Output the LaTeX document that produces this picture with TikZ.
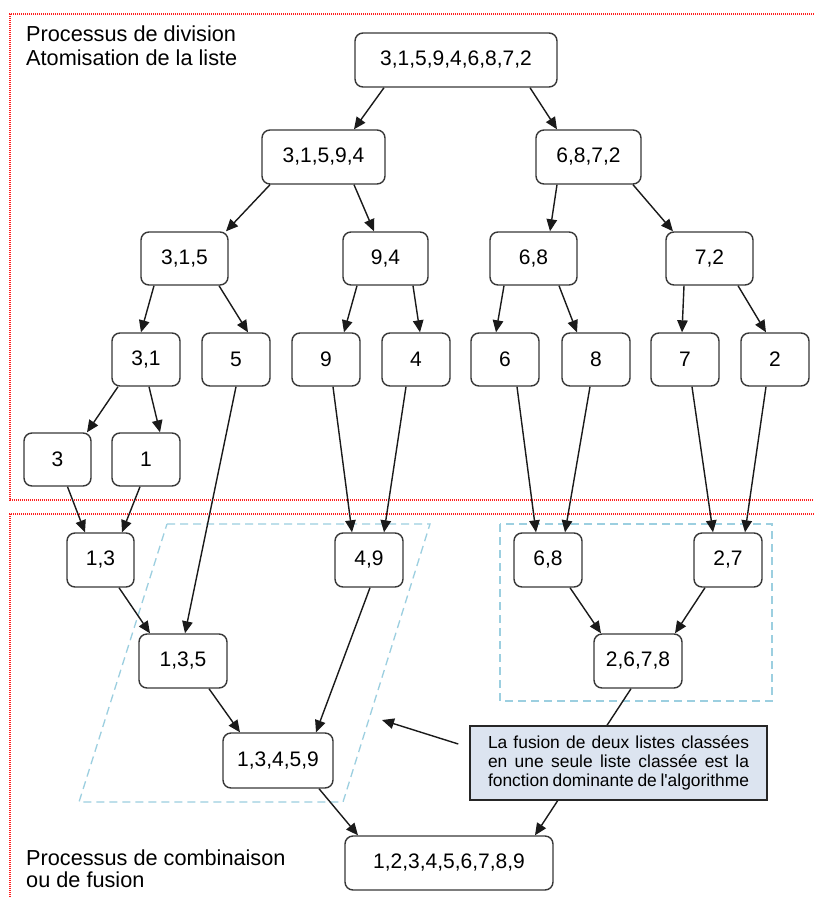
\documentclass[tikz,border=0pt]{standalone}
\usepackage{fontspec}
\setmainfont{Liberation Sans}
\usetikzlibrary{arrows.meta}
\definecolor{boxline}{HTML}{383838}
\definecolor{arrowcol}{HTML}{1A1A1A}
\definecolor{notefill}{HTML}{DCE4F0}
\definecolor{dashblue}{HTML}{9CCFE0}
\definecolor{dotred}{HTML}{FF1E1E}
\begin{document}
\begin{tikzpicture}[x=1pt,y=-1pt,
  box/.style={draw=boxline,line width=1.4pt,rounded corners=8pt,fill=white,inner sep=0pt,minimum height=54pt,font=\fontsize{21}{25}\selectfont},
  conn/.style={draw=arrowcol,line width=1.4pt,-{Triangle[length=12pt,width=10.5pt]}},
  titletext/.style={anchor=base west,inner sep=0pt,font=\fontsize{21.7}{24}\selectfont},
  frame/.style={draw=dotred,line width=1.2pt,dash pattern=on 1.2pt off 0.8pt},
  group/.style={draw=dashblue,line width=1.3pt,dash pattern=on 8pt off 5pt},
  notebox/.style={draw=black!85,line width=1.4pt,fill=notefill,inner sep=0pt,minimum width=297pt,minimum height=74pt,text width=261pt,align=justify,font=\fontsize{17.4}{19}\selectfont}]
\useasboundingbox (0,0) rectangle (814,898);
\fill[white] (0,0) rectangle (814,898);
% frames
\draw[frame] (814,14) -- (10,14) -- (10,500) -- (814,500);
\draw[frame] (814,514) -- (10,514) -- (10,898);
% groups
\draw[group] (167,524) -- (430,524) -- (343,802) -- (79,802) -- cycle;
\draw[group] (500,524) rectangle (772,701);
% titles
\node[titletext] (t1) at (26,41) {Processus de division};
\node[titletext] (t2) at (26,65) {Atomisation de la liste};
\node[titletext] (t3) at (26,865) {Processus de combinaison};
\node[titletext] (t4) at (26,887) {ou de fusion};
% division boxes
\node[box,minimum width=202pt] (root) at (456,60) {3,1,5,9,4,6,8,7,2};
\node[box,minimum width=123pt] (A) at (323.5,157) {3,1,5,9,4};
\node[box,minimum width=105pt] (B) at (588.5,157) {6,8,7,2};
\node[box,minimum width=87pt,minimum height=53pt] (C) at (184.5,258.5) {3,1,5};
\node[box,minimum width=85pt,minimum height=53pt] (D) at (385.5,258.5) {9,4};
\node[box,minimum width=87pt,minimum height=53pt] (E) at (533.5,258.5) {6,8};
\node[box,minimum width=87pt,minimum height=53pt] (F) at (709.5,258.5) {7,2};
\node[box,minimum width=68pt,minimum height=53pt] (G) at (146,359.5) {3,1};
\node[box,minimum width=68pt,minimum height=53pt] (H) at (236,359.5) {5};
\node[box,minimum width=68pt,minimum height=53pt] (I) at (326,359.5) {9};
\node[box,minimum width=68pt,minimum height=53pt] (J) at (416,359.5) {4};
\node[box,minimum width=68pt,minimum height=53pt] (K) at (505,359.5) {6};
\node[box,minimum width=68pt,minimum height=53pt] (L) at (596,359.5) {8};
\node[box,minimum width=68pt,minimum height=53pt] (M) at (685,359.5) {7};
\node[box,minimum width=68pt,minimum height=53pt] (N) at (775,359.5) {2};
\node[box,minimum width=67pt,minimum height=53pt] (O) at (57.5,459.5) {3};
\node[box,minimum width=68pt,minimum height=53pt] (P) at (146,459.5) {1};
% merge boxes
\node[box,minimum width=67pt] (Q) at (100.5,560) {1,3};
\node[box,minimum width=68pt] (R) at (369,560) {4,9};
\node[box,minimum width=68pt] (S) at (548,560) {6,8};
\node[box,minimum width=68pt] (T) at (728,560) {2,7};
\node[box,minimum width=88pt] (U) at (183,661) {1,3,5};
\node[box,minimum width=88pt] (V) at (638,661) {2,6,7,8};
\node[box,minimum width=110pt,minimum height=55pt] (W) at (278,760.5) {1,3,4,5,9};
\node[box,minimum width=208pt] (X) at (449,863) {1,2,3,4,5,6,7,8,9};
% division connectors
\draw[conn] ([xshift=-72pt]root.south) -- ([xshift=30.5pt]A.north);
\draw[conn] ([xshift=74pt]root.south) -- ([xshift=-31.5pt]B.north);
\draw[conn] ([xshift=-53.5pt]A.south) -- ([xshift=41.5pt]C.north);
\draw[conn] ([xshift=30.5pt]A.south) -- ([xshift=-11.5pt]D.north);
\draw[conn] ([xshift=-31.5pt]B.south) -- ([xshift=16.5pt]E.north);
\draw[conn] ([xshift=44.5pt]B.south) -- ([xshift=-36.5pt]F.north);
\draw[conn] ([xshift=-30.5pt]C.south) -- ([xshift=-5pt]G.north);
\draw[conn] ([xshift=34.5pt]C.south) -- ([xshift=12pt]H.north);
\draw[conn] ([xshift=-28.5pt]D.south) -- ([xshift=18pt]I.north);
\draw[conn] ([xshift=27.5pt]D.south) -- ([xshift=4pt]J.north);
\draw[conn] ([xshift=-29.5pt]E.south) -- ([xshift=-9pt]K.north);
\draw[conn] ([xshift=25.5pt]E.south) -- ([xshift=-19pt]L.north);
\draw[conn] ([xshift=-25.5pt]F.south) -- ([xshift=-3pt]M.north);
\draw[conn] ([xshift=28.5pt]F.south) -- ([xshift=-9pt]N.north);
\draw[conn] ([xshift=-28pt]G.south) -- ([xshift=29.5pt]O.north);
\draw[conn] ([xshift=3pt]G.south) -- ([xshift=14pt]P.north);
% merge connectors
\draw[conn] (H.south) -- ([xshift=2pt]U.north);
\draw[conn] ([xshift=7pt]I.south) -- ([xshift=-17pt]R.north);
\draw[conn] ([xshift=-10pt]J.south) -- ([xshift=15pt]R.north);
\draw[conn] ([xshift=12pt]K.south) -- ([xshift=-12pt]S.north);
\draw[conn] ([xshift=-6pt]L.south) -- ([xshift=17pt]S.north);
\draw[conn] ([xshift=7pt]M.south) -- ([xshift=-15pt]T.north);
\draw[conn] ([xshift=-9pt]N.south) -- ([xshift=17pt]T.north);
\draw[conn] ([xshift=10pt]O.south) -- ([xshift=-15.5pt]Q.north);
\draw[conn] ([xshift=-6pt]P.south) -- ([xshift=21.5pt]Q.north);
\draw[conn] ([xshift=18.5pt]Q.south) -- ([xshift=-33pt]U.north);
\draw[conn] ([xshift=1pt]R.south) -- ([xshift=38pt]W.north);
\draw[conn] ([xshift=26pt]U.south) -- ([xshift=-38pt]W.north);
\draw[conn] ([xshift=22pt]S.south) -- ([xshift=-37pt]V.north);
\draw[conn] ([xshift=-23pt]T.south) -- ([xshift=37pt]V.north);
\draw[conn] ([xshift=-7pt]V.south) -- ([xshift=86pt]X.north);
\draw[conn] ([xshift=41pt]W.south) -- ([xshift=-91pt]X.north);
% note
\node[notebox] (note) at (618.5,763) {La fusion de deux listes classées\linebreak en une seule liste classée est la\linebreak fonction dominante de l\textquotesingle algorithme\parfillskip=0pt};
\coordinate (notetip) at (382,720);
\draw[conn] ([xshift=-11pt,yshift=19pt]note.west) -- (notetip);
\end{tikzpicture}
\end{document}
